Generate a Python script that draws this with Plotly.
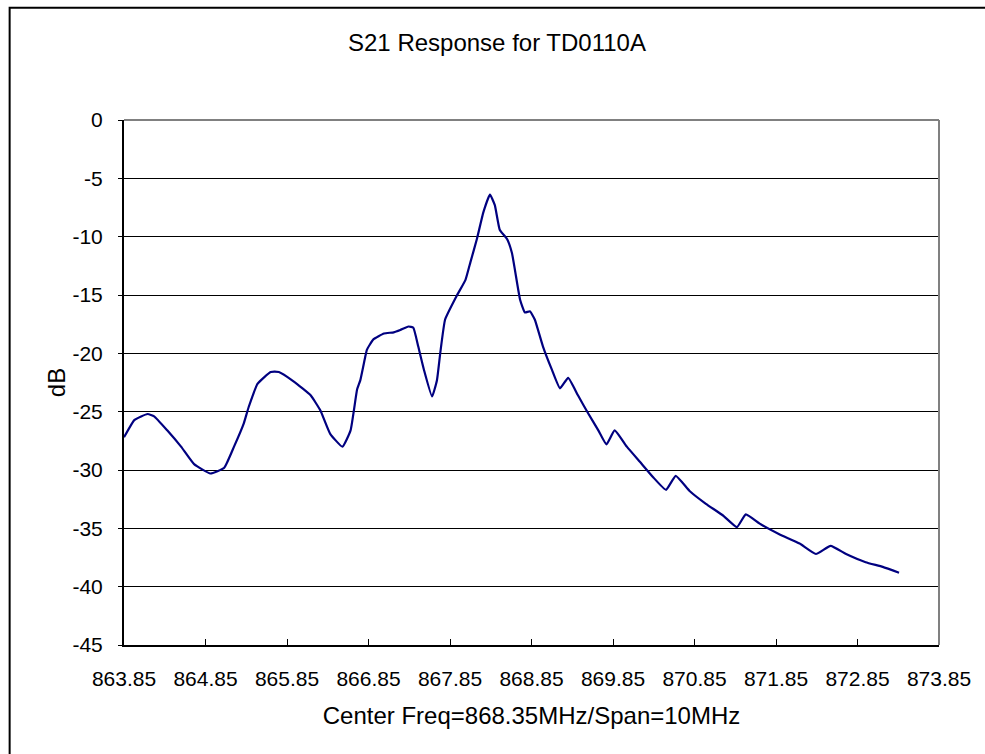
import plotly.graph_objects as go

# Frequency (MHz) and S21 (dB)
freq_mhz = [863.85, 863.98, 864.14, 864.22, 864.38, 864.55, 864.71, 864.91, 865.08, 865.20,
            865.32, 865.38, 865.49, 865.65, 865.75, 865.93, 866.14, 866.26, 866.38, 866.53,
            866.63, 866.71, 866.75, 866.81, 866.83, 866.91, 867.04, 867.16, 867.24, 867.34,
            867.40, 867.46, 867.53, 867.63, 867.69, 867.73, 867.79, 867.93, 868.04, 868.10,
            868.18, 868.26, 868.34, 868.40, 868.46, 868.55, 868.61, 868.71, 868.77, 868.83,
            868.89, 868.99, 869.10, 869.20, 869.30, 869.42, 869.55, 869.67, 869.77, 869.87,
            870.02, 870.18, 870.34, 870.50, 870.62, 870.79, 870.99, 871.20, 871.37, 871.48,
            871.65, 871.89, 872.14, 872.34, 872.52, 872.71, 872.95, 873.16, 873.36]
s21_db = [-27.2, -25.7, -25.2, -25.4, -26.6, -28.0, -29.5, -30.3, -29.8, -28.0,
          -26.0, -24.6, -22.6, -21.6, -21.6, -22.4, -23.6, -24.9, -26.9, -28.0,
          -26.6, -23.1, -22.3, -20.3, -19.7, -18.8, -18.3, -18.2, -18.0, -17.7,
          -17.8, -19.4, -21.4, -23.7, -22.3, -20.0, -17.1, -15.1, -13.7, -12.2,
          -10.2, -7.9, -6.4, -7.3, -9.4, -10.2, -11.4, -15.4, -16.5, -16.4,
          -17.1, -19.4, -21.4, -23.0, -22.1, -23.6, -25.2, -26.6, -27.8, -26.6,
          -28.0, -29.3, -30.6, -31.7, -30.5, -31.8, -32.9, -33.9, -34.9, -33.8,
          -34.6, -35.5, -36.3, -37.2, -36.5, -37.2, -37.9, -38.3, -38.8]

x_ticks = [863.85, 864.85, 865.85, 866.85, 867.85, 868.85, 869.85, 870.85, 871.85, 872.85, 873.85]
x_ticktext = ["863.85", "864.85", "865.85", "866.85", "867.85", "868.85",
              "869.85", "870.85", "871.85", "872.85", "873.85"]
y_ticks = [0, -5, -10, -15, -20, -25, -30, -35, -40, -45]
y_ticktext = ["0", "-5", "-10", "-15", "-20", "-25", "-30", "-35", "-40", "-45"]

title_text = "S21 Response for TD0110A"
x_title = "Center Freq=868.35MHz/Span=10MHz"
y_title = "dB"

W, H = 985, 754
L, R, T, B = 123.5, 45.5, 119.5, 108.5
pw, ph = W - L - R, H - T - B

def px_x(px):
    return (px - L) / pw

def px_y(py):
    return (H - B - py) / ph

FONT = "Liberation Sans, Arial, sans-serif"

fig = go.Figure()
fig.add_trace(go.Scatter(x=freq_mhz, y=s21_db, mode="lines",
                         line=dict(color="#000080", width=2.2, shape="spline", smoothing=0.4),
                         showlegend=False, hoverinfo="x+y"))

fig.update_layout(
    width=W, height=H,
    margin=dict(l=L, r=R, t=T, b=B, pad=0),
    paper_bgcolor="white", plot_bgcolor="white",
    font=dict(family=FONT, size=20, color="black"),
    title=dict(text=title_text, x=497 / W, xref="container", xanchor="center",
               y=1 - 43 / H, yref="container", yanchor="middle",
               font=dict(size=24, family=FONT, color="black")),
    showlegend=False,
)
fig.update_xaxes(
    range=[863.85, 873.85], tickvals=x_ticks, ticktext=x_ticktext,
    showgrid=False, zeroline=False,
    showline=True, linecolor="black", linewidth=2,
    ticks="inside", ticklen=6, tickcolor="black", tickwidth=1,
    ticklabelstandoff=14,
    tickfont=dict(size=21, family=FONT, color="black"),
    title=dict(text=x_title, standoff=18, font=dict(size=24, family=FONT, color="black")),
)
fig.update_yaxes(
    range=[-45, 0], tickvals=y_ticks, ticktext=y_ticktext,
    showgrid=True, gridcolor="black", gridwidth=1, zeroline=False,
    showline=True, linecolor="black", linewidth=2,
    ticks="outside", ticklen=4, tickcolor="black", tickwidth=1,
    ticklabelstandoff=11,
    tickfont=dict(size=21, family=FONT, color="black"),
    title=dict(text=y_title, standoff=0, font=dict(size=24, family=FONT, color="black")),
)

# grey plot-area border on top and right
fig.add_shape(type="line", xref="paper", yref="paper", x0=0, x1=1, y0=1, y1=1,
              line=dict(color="#808080", width=2), layer="above")
fig.add_shape(type="line", xref="paper", yref="paper", x0=1, x1=1, y0=0, y1=1,
              line=dict(color="#808080", width=2), layer="above")
# outer chart frame
fig.add_shape(type="rect", xref="paper", yref="paper",
              x0=px_x(9), x1=px_x(W + 10), y0=px_y(H + 10), y1=px_y(7),
              line=dict(color="black", width=2), fillcolor="rgba(0,0,0,0)", layer="above")

fig.write_html("out.html", config={"displayModeBar": False},
               post_script="document.body.style.margin='0';document.body.style.overflow='hidden';")
